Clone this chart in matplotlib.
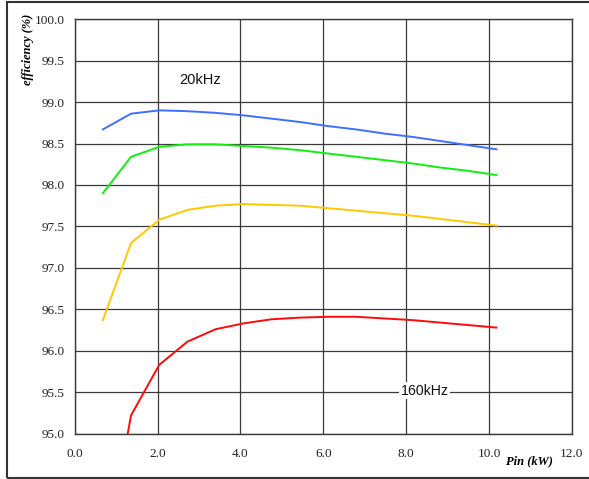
import matplotlib
matplotlib.use("Agg")
import matplotlib.pyplot as plt
from matplotlib.patches import Rectangle

pin = [0.68, 1.36, 2.04, 2.72, 3.40, 4.07, 4.75, 5.43, 6.11, 6.79, 7.47, 8.15, 8.83, 9.50, 10.18]
eff_blue = [98.67, 98.86, 98.90, 98.89, 98.87, 98.84, 98.80, 98.76, 98.71, 98.67, 98.62, 98.58, 98.53, 98.48, 98.43]
eff_green = [97.90, 98.34, 98.46, 98.49, 98.49, 98.47, 98.45, 98.42, 98.38, 98.34, 98.30, 98.26, 98.21, 98.17, 98.12]
eff_yellow = [96.37, 97.30, 97.58, 97.70, 97.75, 97.77, 97.76, 97.75, 97.72, 97.69, 97.66, 97.63, 97.59, 97.55, 97.51]
eff_red = [93.35, 95.22, 95.83, 96.11, 96.26, 96.33, 96.38, 96.40, 96.41, 96.41, 96.39, 96.37, 96.34, 96.31, 96.28]

xticks = [0.0, 2.0, 4.0, 6.0, 8.0, 10.0, 12.0]
yticks = [95.0, 95.5, 96.0, 96.5, 97.0, 97.5, 98.0, 98.5, 99.0, 99.5, 100.0]

fig = plt.figure(figsize=(5.89, 4.79), dpi=100)
ax = fig.add_axes([0.1268, 0.0946, 0.971 - 0.1268, 0.960 - 0.0946])

for vals, col in [(eff_blue, "#3f6fff"), (eff_green, "#11ee11"),
                  (eff_yellow, "#ffc800"), (eff_red, "#ff0a0a")]:
    ax.plot(pin, vals, color=col, lw=1.4, zorder=3)

ax.set_xlim(0, 12)
ax.set_ylim(95, 100)
ax.set_xticks(xticks)
ax.set_yticks(yticks)
ax.set_xticklabels([f"{v:.1f}" for v in xticks])
ax.set_yticklabels([f"{v:.1f}" for v in yticks])
ax.grid(True, color="#3a3a3a", lw=0.9, zorder=1)
ax.tick_params(length=0, labelsize=9.5, labelcolor="#222222")
ax.tick_params(axis="y", pad=7)
ax.tick_params(axis="x", pad=10)
for lab in ax.get_xticklabels() + ax.get_yticklabels():
    lab.set_fontfamily("Liberation Serif")
for s in ax.spines.values():
    s.set_color("#3a3a3a")
    s.set_linewidth(1.0)

ax.text(3.02, 99.27, "20kHz", fontsize=10.5, family="Liberation Sans",
        ha="center", va="center", color="#111111", zorder=4)
ax.text(8.44, 95.52, "160kHz", fontsize=10.2, family="Liberation Sans",
        ha="center", va="center", color="#111111", zorder=4,
        bbox=dict(facecolor="white", edgecolor="none", pad=1.0))

fig.text(28 / 589, 1 - 49 / 479, "efficiency (%)", rotation=90, ha="center", va="center",
         fontsize=9, family="Liberation Serif", style="italic", weight="bold")
fig.text(529.5 / 589, 1 - 461 / 479, "Pin (kW)", ha="center", va="center",
         fontsize=9, family="Liberation Serif", style="italic", weight="bold")

fig.patches.append(Rectangle((7 / 589, 1.5 / 479), 1.05, 1 - 3 / 479,
                             transform=fig.transFigure, fill=False,
                             edgecolor="#333333", lw=1.5, clip_on=False))

fig.savefig("out.png", dpi=100)
